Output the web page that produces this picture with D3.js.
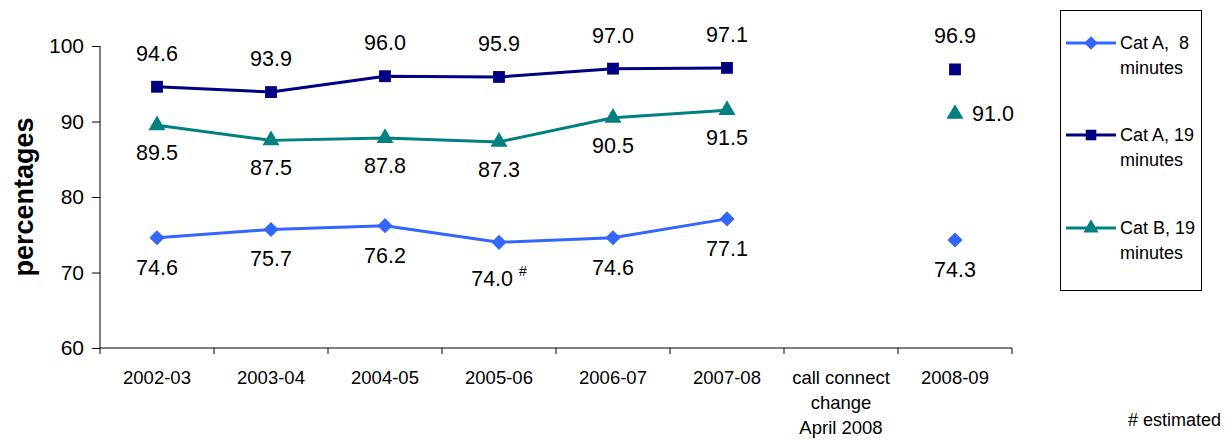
<!DOCTYPE html>
<html>
<head>
<meta charset="utf-8">
<script src="https://cdn.jsdelivr.net/npm/d3@7"></script>
<style>
  html, body { margin: 0; padding: 0; background: #fff; }
  svg { display: block; font-family: "Liberation Sans", Arial, sans-serif; }
</style>
</head>
<body>
<svg id="chart" width="1232" height="440"></svg>
<script>
// Financial years, plus the gap marking the call connect change
const categories = ["2002-03", "2003-04", "2004-05", "2005-06", "2006-07", "2007-08", "call connect\nchange\nApril 2008", "2008-09"];

// Percentages per year (null = no value for that column)
const catA8  = [74.6, 75.7, 76.2, 74.0, 74.6, 77.1, null, 74.3];
const catA19 = [94.6, 93.9, 96.0, 95.9, 97.0, 97.1, null, 96.9];
const catB19 = [89.5, 87.5, 87.8, 87.3, 90.5, 91.5, null, 91.0];

const seriesNames = ["Cat A,  8\nminutes", "Cat A, 19\nminutes", "Cat B, 19\nminutes"];
const yTicks = [60, 70, 80, 90, 100];
const estimatedIndex = 3; // 2005-06 Cat A 8 minutes value is an estimate

const svg = d3.select("#chart");
const plotLeft = 100, plotRight = 1012, plotTop = 46, plotBottom = 348;

const x = d3.scaleBand().domain(categories).range([plotLeft, plotRight]);
const y = d3.scaleLinear().domain([60, 100]).range([plotBottom, plotTop]);
const cx = c => x(c) + x.bandwidth() / 2;

// Y axis
const yAxis = svg.append("g")
  .attr("transform", `translate(${plotLeft},0)`)
  .call(d3.axisLeft(y).tickValues(yTicks).tickSize(8).tickPadding(8).tickFormat(d3.format("d")));
yAxis.selectAll("path, line").attr("stroke", "#000").attr("stroke-width", 1);
yAxis.selectAll("text").attr("font-size", 21).attr("fill", "#000")
  .attr("font-family", "Liberation Sans, Arial, sans-serif");
yAxis.select(".domain").attr("d", `M0,${plotBottom}V${plotTop}`);

// X axis: baseline with ticks between categories
const xg = svg.append("g");
xg.append("line").attr("x1", plotLeft).attr("x2", plotRight).attr("y1", plotBottom).attr("y2", plotBottom)
  .attr("stroke", "#000");
const bounds = categories.map(c => x(c)).concat([plotRight]);
xg.selectAll("line.tk").data(bounds).join("line").attr("class", "tk")
  .attr("x1", d => d).attr("x2", d => d).attr("y1", plotBottom).attr("y2", plotBottom + 6)
  .attr("stroke", "#000");
const xl = xg.selectAll("text.xl").data(categories).join("text").attr("class", "xl")
  .attr("x", d => cx(d)).attr("y", 384)
  .attr("text-anchor", "middle").attr("font-size", 18.5).attr("fill", "#000");
xl.each(function (d) {
  const lines = d.split("\n");
  d3.select(this).selectAll("tspan").data(lines).join("tspan")
    .attr("x", cx(d)).attr("dy", (l, i) => i === 0 ? 0 : 25).text(l => l);
});

// Y axis title
svg.append("text")
  .attr("transform", `translate(33,${(plotTop + plotBottom) / 2}) rotate(-90)`)
  .attr("text-anchor", "middle").attr("font-size", 27).attr("font-weight", "bold")
  .text("percentages");

// Diamond = square rotated by 45 degrees
const diamond = {
  draw(ctx, size) {
    const r = Math.sqrt(size / 2);
    ctx.moveTo(0, -r); ctx.lineTo(r, 0); ctx.lineTo(0, r); ctx.lineTo(-r, 0); ctx.closePath();
  }
};

// Series drawing
const series = [
  { name: seriesNames[0], values: catA8,  color: "#3366FF", marker: diamond,           size: 115, labelDy: 30 },
  { name: seriesNames[1], values: catA19, color: "#000080", marker: d3.symbolSquare,   size: 140, labelDy: -33 },
  { name: seriesNames[2], values: catB19, color: "#008080", marker: d3.symbolTriangle, size: 125, labelDy: 28 }
];

const line = d3.line()
  .defined(d => d.v !== null && d.i <= 5)
  .x(d => cx(d.c)).y(d => y(d.v));

series.forEach((s, si) => {
  const pts = s.values.map((v, i) => ({ v, i, c: categories[i] }));
  svg.append("path").datum(pts)
    .attr("d", line).attr("fill", "none")
    .attr("stroke", s.color).attr("stroke-width", 3).attr("stroke-linejoin", "round");

  const valid = pts.filter(p => p.v !== null);
  svg.selectAll(null).data(valid).join("path")
    .attr("d", d3.symbol().type(s.marker).size(s.size))
    .attr("transform", p => `translate(${cx(p.c)},${y(p.v)})`)
    .attr("fill", s.color);

  // value labels
  valid.forEach(p => {
    let lx = cx(p.c), ly = y(p.v) + s.labelDy, anchor = "middle";
    if (si === 2 && p.i === 7) { lx = cx(p.c) + 17; ly = y(p.v); anchor = "start"; }
    if (si === 0 && p.i === estimatedIndex) { ly = y(p.v) + 37; }
    const t = svg.append("text").attr("x", lx).attr("y", ly)
      .attr("dominant-baseline", "central").attr("text-anchor", anchor)
      .attr("font-size", 21.5).attr("fill", "#000")
      .style("white-space", "pre")
      .text(p.v.toFixed(1));
    if (si === 0 && p.i === estimatedIndex) {
      t.text(p.v.toFixed(1) + " ");
      t.append("tspan").attr("font-size", 14).attr("dy", -8).text("#");
    }
  });
});

// Legend
const lg = svg.append("g");
lg.append("rect").attr("x", 1060.5).attr("y", 10.5).attr("width", 141).attr("height", 280)
  .attr("fill", "#fff").attr("stroke", "#000").attr("stroke-width", 1);
const lgY = [43, 135, 228];
series.forEach((s, i) => {
  const g = lg.append("g").attr("transform", `translate(0,${lgY[i]})`);
  g.append("line").attr("x1", 1066).attr("x2", 1116).attr("y1", 0).attr("y2", 0)
    .attr("stroke", s.color).attr("stroke-width", 3);
  g.append("path").attr("d", d3.symbol().type(s.marker).size(s.size * 0.8))
    .attr("transform", "translate(1091,0)").attr("fill", s.color);
  const t = g.append("text").attr("x", 1120).attr("y", 0).attr("font-size", 18)
    .attr("dominant-baseline", "central").style("white-space", "pre");
  s.name.split("\n").forEach((l, k) => {
    t.append("tspan").attr("x", 1120).attr("dy", k === 0 ? 0 : 25).text(l);
  });
});

// Footnote
svg.append("text").attr("x", 1221).attr("y", 420).attr("text-anchor", "end")
  .attr("dominant-baseline", "central").attr("font-size", 18).text("# estimated");
</script>
</body>
</html>
